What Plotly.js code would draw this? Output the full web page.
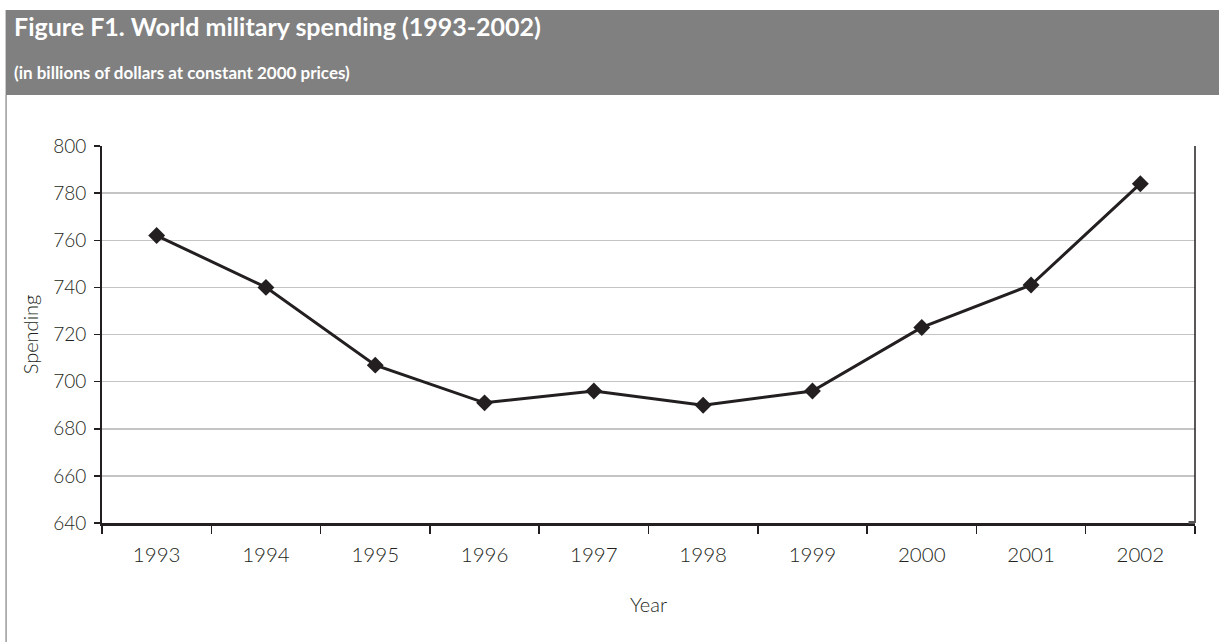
<!DOCTYPE html>
<html>
<head>
<meta charset="utf-8">
<script src="https://cdn.plot.ly/plotly-3.0.1.min.js"></script>
<style>
  html, body { margin: 0; padding: 0; background: #ffffff; }
  #chart { width: 1219px; height: 642px; }
</style>
</head>
<body>
<div id="chart"></div>
<script>
// ---- Data ----
const years = ['1993', '1994', '1995', '1996', '1997', '1998', '1999', '2000', '2001', '2002'];
const spending = [762, 740, 707, 691, 696, 690, 696, 723, 741, 784];
const yTickValues = [640, 660, 680, 700, 720, 740, 760, 780, 800];

const titleText = 'Figure F1. World military spending (1993-2002)';
const subtitleText = '(in billions of dollars at constant 2000 prices)';
const xTitle = 'Year';
const yTitle = 'Spending';

// ---- Layout geometry (pixels) ----
const W = 1219, H = 642;
const plotL = 101.5, plotR = 1195.5, plotT = 146, plotB = 523;
const px = p => (p - plotL) / (plotR - plotL);
const py = q => (plotB - q) / (plotB - plotT);

const FONT = 'Lato, "Open Sans", "Liberation Sans", sans-serif';
const TEXT = '#231f20';

const trace = {
  type: 'scatter',
  mode: 'lines+markers',
  x: years,
  y: spending,
  line: { color: TEXT, width: 3 },
  marker: { symbol: 'diamond', size: 13, color: TEXT },
  hoverinfo: 'x+y',
  showlegend: false
};

const layout = {
  width: W,
  height: H,
  paper_bgcolor: '#ffffff',
  plot_bgcolor: '#ffffff',
  margin: { l: plotL, r: W - plotR, t: plotT, b: H - plotB, pad: 0 },
  font: { family: FONT, color: TEXT },
  xaxis: {
    type: 'category',
    range: [-0.5, years.length - 0.5],
    tickson: 'boundaries',
    ticks: 'outside',
    ticklen: 8,
    tickwidth: 1.5,
    tickcolor: TEXT,
    ticklabelstandoff: 12,
    showline: true,
    linecolor: TEXT,
    linewidth: 2.5,
    showgrid: false,
    zeroline: false,
    tickfont: { family: FONT, size: 20.5, color: TEXT, weight: 300 },
    title: { text: xTitle, font: { family: FONT, size: 20, color: TEXT, weight: 300 }, standoff: 33 },
    fixedrange: true
  },
  yaxis: {
    range: [640, 800],
    tickvals: yTickValues,
    ticktext: yTickValues.map(String),
    ticks: 'outside',
    ticklen: 6,
    tickwidth: 1.5,
    tickcolor: TEXT,
    ticklabelstandoff: 4,
    showline: true,
    linecolor: TEXT,
    linewidth: 2,
    showgrid: true,
    gridcolor: '#c4c4c4',
    gridwidth: 1.5,
    zeroline: false,
    tickfont: { family: FONT, size: 19, color: TEXT, weight: 300 },
    title: { text: yTitle, font: { family: FONT, size: 20, color: TEXT, weight: 300 }, standoff: 9 },
    fixedrange: true
  },
  shapes: [
    // header band
    { type: 'rect', xref: 'paper', yref: 'paper', layer: 'below',
      x0: px(5), x1: px(W + 5), y0: py(95), y1: py(10),
      fillcolor: '#808080', line: { width: 0 } },
    // left frame line
    { type: 'line', xref: 'paper', yref: 'paper',
      x0: px(5.5), x1: px(5.5), y0: py(95), y1: py(H + 5),
      line: { color: '#9a9a9a', width: 1.5 } },
    // right plot border
    { type: 'line', xref: 'paper', yref: 'paper',
      x0: 1, x1: 1, y0: 0, y1: 1,
      line: { color: TEXT, width: 1.5 } },
    // small stub at bottom right
    { type: 'line', xref: 'paper', yref: 'paper',
      x0: px(1189), x1: 1, y0: py(522.5), y1: py(522.5),
      line: { color: '#555555', width: 3 } }
  ],
  annotations: [
    { xref: 'paper', yref: 'paper', x: px(11), y: py(26), xanchor: 'left', yanchor: 'middle',
      text: '<b>' + titleText + '</b>', showarrow: false,
      font: { family: FONT, size: 25, color: '#ffffff' } },
    { xref: 'paper', yref: 'paper', x: px(11), y: py(72), xanchor: 'left', yanchor: 'middle',
      text: '<b>' + subtitleText + '</b>', showarrow: false,
      font: { family: FONT, size: 17, color: '#ffffff' } }
  ]
};

Plotly.newPlot('chart', [trace], layout, { displayModeBar: false, staticPlot: true });
</script>
</body>
</html>
